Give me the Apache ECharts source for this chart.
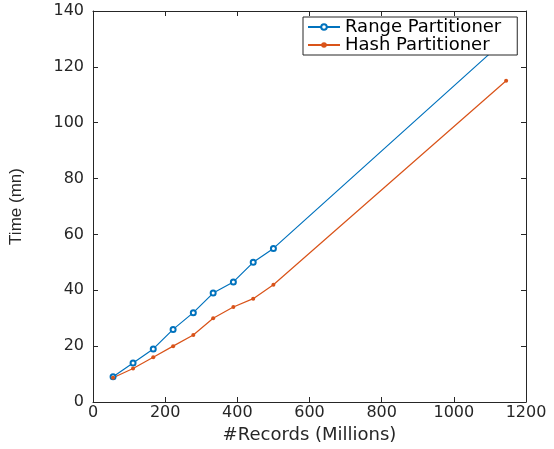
<!DOCTYPE html>
<html>
<head>
<meta charset="utf-8">
<script src="https://cdn.jsdelivr.net/npm/echarts@6/dist/echarts.min.js"></script>
<style>html,body{margin:0;padding:0;background:#fff}#c{width:554px;height:449px}</style>
</head>
<body>
<div id="c"></div>
<script>
var records = [55.6, 111, 167, 222, 278, 333, 389, 444, 500, 1145];
var rangeTimes = [9, 14, 19, 26, 32, 39, 43, 50, 55, 130];
var hashTimes = [8.7, 12, 16, 20, 24, 30, 34, 37, 42, 115];
var seriesNames = ['Range Partitioner', 'Hash Partitioner'];

function pairs(xs, ys) { return xs.map(function (x, i) { return [x, ys[i]]; }); }

var axisCol = '#262626';
var tickFont = 'DejaVu Sans';
var chart = echarts.init(document.getElementById('c'), null, {renderer: 'canvas'});
var plain = function (v) { return String(v); };
var baseX = {
  type: 'value', min: 0, max: 1200, interval: 200,
  axisLine: {show: true, onZero: false, lineStyle: {color: axisCol, width: 1}},
  axisTick: {show: true, inside: true, length: 5, lineStyle: {color: axisCol}},
  splitLine: {show: false}
};
var baseY = {
  type: 'value', min: 0, max: 140, interval: 20,
  axisLine: {show: true, onZero: false, lineStyle: {color: axisCol, width: 1}},
  axisTick: {show: true, inside: true, length: 5, lineStyle: {color: axisCol}},
  splitLine: {show: false}
};
chart.setOption({
  animation: false,
  backgroundColor: '#fff',
  grid: {left: 92, right: 28, top: 11, bottom: 47},
  legend: {
    orient: 'vertical', left: 303, top: 17,
    padding: [1, 16, 1, 4], itemGap: 0, itemWidth: 32, itemHeight: 7,
    borderColor: axisCol, borderWidth: 1, backgroundColor: '#fff',
    textStyle: {fontFamily: tickFont, fontSize: 18, color: '#000', lineHeight: 16},
    data: seriesNames
  },
  xAxis: [
    Object.assign({}, baseX, {
      position: 'bottom',
      name: '#Records (Millions)', nameLocation: 'middle', nameGap: 21,
      nameTextStyle: {fontFamily: tickFont, fontSize: 18, color: axisCol},
      axisLabel: {show: true, margin: 3, fontFamily: tickFont, fontSize: 16, color: axisCol, formatter: plain}
    }),
    Object.assign({}, baseX, {position: 'top', axisLabel: {show: false}})
  ],
  yAxis: [
    Object.assign({}, baseY, {
      position: 'left',
      name: 'Time (mn)', nameLocation: 'middle', nameGap: 68,
      nameTextStyle: {fontFamily: 'Liberation Sans', fontSize: 17, color: axisCol},
      axisLabel: {show: true, margin: 9, fontFamily: tickFont, fontSize: 16, color: axisCol, formatter: plain}
    }),
    Object.assign({}, baseY, {position: 'right', axisLabel: {show: false}})
  ],
  series: [
    {
      name: seriesNames[0], type: 'line', xAxisIndex: 0, yAxisIndex: 0,
      data: pairs(records, rangeTimes),
      symbol: 'emptyCircle', symbolSize: 5, showAllSymbol: true,
      lineStyle: {color: '#0072BD', width: 1.2},
      itemStyle: {color: '#0072BD', borderColor: '#0072BD', borderWidth: 1}
    },
    {
      name: seriesNames[1], type: 'line', xAxisIndex: 0, yAxisIndex: 0,
      data: pairs(records, hashTimes),
      symbol: 'circle', symbolSize: 4, showAllSymbol: true,
      lineStyle: {color: '#D95319', width: 1.2},
      itemStyle: {color: '#D95319'}
    }
  ]
});
</script>
</body>
</html>
